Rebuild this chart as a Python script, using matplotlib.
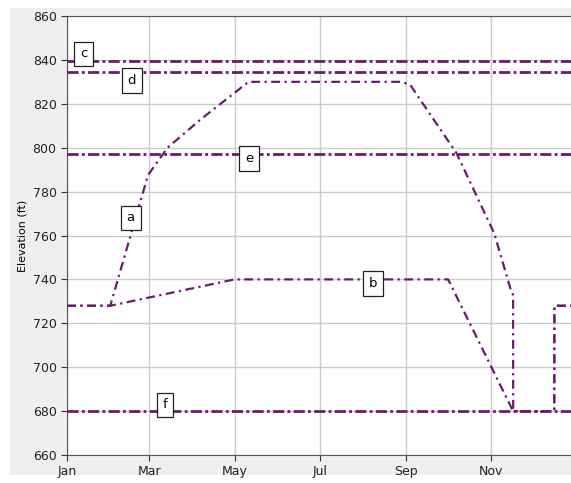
import matplotlib
matplotlib.use('Agg')
import matplotlib.pyplot as plt
from matplotlib.patches import Rectangle

# day of year (0 = Jan 1) and elevations
a_days = [0, 31, 58, 72, 95, 120, 130, 240, 246, 255, 279, 306, 318, 319.5, 319.6, 349, 349.1, 365]
a_elev = [728, 728, 787.5, 800, 812.5, 825, 830, 830, 828.5, 820, 797.5, 761, 735, 733, 680, 680, 728, 728]

b_days = [0, 31, 120, 273, 319.5, 349, 349.1, 365]
b_elev = [728, 728, 740, 740, 680, 680, 728, 728]

ref_names = ['c', 'd', 'e', 'f']
ref_elev = [839.5, 834.5, 797, 680]

labels = ['a', 'b', 'c', 'd', 'e', 'f']
label_days = [45.6, 219, 12, 46.4, 130.5, 70.3]
label_elev = [768, 738, 842.7, 830.5, 795, 682.8]

month_days = [0, 59, 120, 181, 243, 304]
month_names = ['Jan', 'Mar', 'May', 'Jul', 'Sep', 'Nov']

purple = '#6a1b6e'
ref_dash = (0, (4, 1.2, 1, 1.2))
curve_dash = (0, (4, 2, 1, 2))

fig = plt.figure(figsize=(5.71, 4.83), dpi=100, facecolor='white')
fig.patches.append(Rectangle((10/571, 8/483), 1, 467/483, transform=fig.transFigure,
                             facecolor='#efefef', edgecolor='none', zorder=-10))
ax = fig.add_axes([67/571, 28/483, 1 - 67/571, (455-16)/483])
ax.set_facecolor('white')

for e in ref_elev:
    ax.axhline(e, color=purple, lw=2, linestyle=ref_dash, zorder=3)
ax.plot(a_days, a_elev, color=purple, lw=1.6, linestyle=curve_dash, zorder=3)
ax.plot(b_days, b_elev, color=purple, lw=1.6, linestyle=curve_dash, zorder=3)

for t, x, y in zip(labels, label_days, label_elev):
    ax.text(x, y, t, ha='center', va='center', fontsize=9.5, zorder=5,
            bbox=dict(boxstyle='square,pad=0.45', facecolor='white', edgecolor='#222222', lw=0.9))

ax.set_xlim(0, 361)
ax.set_ylim(660, 860)
ax.set_yticks(range(660, 861, 20))
ax.set_xticks(month_days)
ax.set_xticklabels(month_names)
ax.grid(True, color='#cccccc', lw=1)
ax.set_axisbelow(True)
ax.tick_params(labelsize=9, length=4, color='#333333', labelcolor='#222222')
ax.set_ylabel('Elevation (ft)', fontsize=8)
for s in ['left', 'bottom', 'top']:
    ax.spines[s].set_color('#555555')
ax.spines['right'].set_visible(False)

fig.savefig('out.png', dpi=100, facecolor=fig.get_facecolor())
